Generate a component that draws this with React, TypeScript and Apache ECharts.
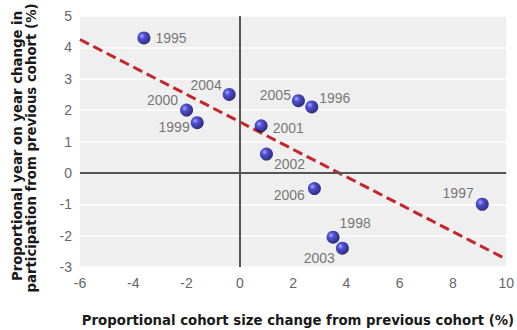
import React, { useEffect, useRef } from "react";
import * as echarts from "echarts";

const years = ["1995", "2004", "2000", "1999", "2005", "1996", "2001", "2002", "2006", "1997", "1998", "2003"];
const cohortChange = [-3.6, -0.4, -2.0, -1.6, 2.2, 2.7, 0.8, 1.0, 2.8, 9.1, 3.5, 3.85];
const participationChange = [4.3, 2.5, 2.0, 1.6, 2.3, 2.1, 1.5, 0.6, -0.5, -1.0, -2.05, -2.4];
const trendX = [-6, 10];
const trendY = [4.25, -2.75];
const xTitle = "Proportional cohort size change from previous cohort (%)";
const yTitle = ["Proportional year on year change in", "participation from previous cohort (%)"];

// label placement (style only)
const labelPlace: Record<string, { position: string; distance: number; offset: number[] }> = {
  "1995": { position: "right", distance: 5, offset: [0, 0] },
  "2004": { position: "left", distance: 1, offset: [0, -9] },
  "2000": { position: "left", distance: 2, offset: [0, -10] },
  "1999": { position: "left", distance: 1, offset: [0, 4] },
  "2005": { position: "left", distance: 1, offset: [0, -6] },
  "1996": { position: "right", distance: 1, offset: [0, -9] },
  "2001": { position: "right", distance: 5, offset: [0, 2] },
  "2002": { position: "right", distance: 1, offset: [0, 10] },
  "2006": { position: "left", distance: 3, offset: [0, 6] },
  "1997": { position: "left", distance: 2, offset: [0, -11] },
  "1998": { position: "right", distance: 0, offset: [0, -14] },
  "2003": { position: "left", distance: 1, offset: [0, 10] },
};

const titleFont = "bold 13.3px 'DejaVu Sans'";

export default function App() {
  const ref = useRef<HTMLDivElement>(null);
  useEffect(() => {
    document.body.style.margin = "0";
    const chart = echarts.init(ref.current!, null, { renderer: "svg" });
    const pointData = years.map((y, i) => ({
      value: [cohortChange[i], participationChange[i]],
      name: y,
      label: { ...labelPlace[y] },
    }));
    const ball = new echarts.graphic.RadialGradient(0.35, 0.35, 0.65, [
      { offset: 0, color: "#9a9aff" },
      { offset: 0.35, color: "#2626d0" },
      { offset: 1, color: "#000060" },
    ]);
    chart.setOption({
      animation: false,
      backgroundColor: "#ffffff",
      grid: {
        left: 80,
        right: 10,
        top: 16,
        bottom: 63,
        show: true,
        backgroundColor: "#efefef",
        borderWidth: 0,
      },
      xAxis: {
        type: "value",
        min: -6,
        max: 10,
        interval: 2,
        axisLine: { show: false },
        axisTick: { show: false },
        splitLine: { show: false },
        axisLabel: { color: "#666", fontSize: 14, fontFamily: "Liberation Sans", margin: 9 },
      },
      yAxis: {
        type: "value",
        min: -3,
        max: 5,
        interval: 1,
        axisLine: { show: false },
        axisTick: { show: false },
        splitLine: { show: true, lineStyle: { color: "#ffffff", width: 1.5 } },
        axisLabel: { color: "#666", fontSize: 14, fontFamily: "Liberation Sans", margin: 8 },
      },
      graphic: [
        {
          type: "text",
          x: 298,
          y: 320,
          style: {
            text: xTitle,
            font: titleFont,
            fill: "#1a1a1a",
            align: "center",
            verticalAlign: "middle",
          },
        },
        {
          type: "text",
          x: 17,
          y: 146,
          rotation: Math.PI / 2,
          style: {
            text: yTitle[0],
            font: titleFont,
            fill: "#1a1a1a",
            align: "center",
            verticalAlign: "middle",
          },
        },
        {
          type: "text",
          x: 31,
          y: 148,
          rotation: Math.PI / 2,
          style: {
            text: yTitle[1],
            font: titleFont,
            fill: "#1a1a1a",
            align: "center",
            verticalAlign: "middle",
          },
        },
      ],
      series: [
        {
          type: "line",
          data: trendX.map((x, i) => [x, trendY[i]]),
          symbol: "none",
          lineStyle: { color: "#c4262a", width: 3, type: [10, 5] },
          z: 3,
          markLine: {
            silent: true,
            symbol: "none",
            label: { show: false },
            lineStyle: { color: "#555", width: 2, type: "solid" },
            data: [{ xAxis: 0 }, { yAxis: 0 }],
          },
        },
        {
          type: "scatter",
          data: pointData,
          symbolSize: 13,
          itemStyle: { color: ball },
          z: 5,
          label: {
            show: true,
            formatter: "{b}",
            color: "#555",
            fontSize: 14,
            fontFamily: "Liberation Sans",
          },
        },
      ],
    });
    return () => chart.dispose();
  }, []);
  return <div ref={ref} style={{ width: 517, height: 330 }} />;
}
